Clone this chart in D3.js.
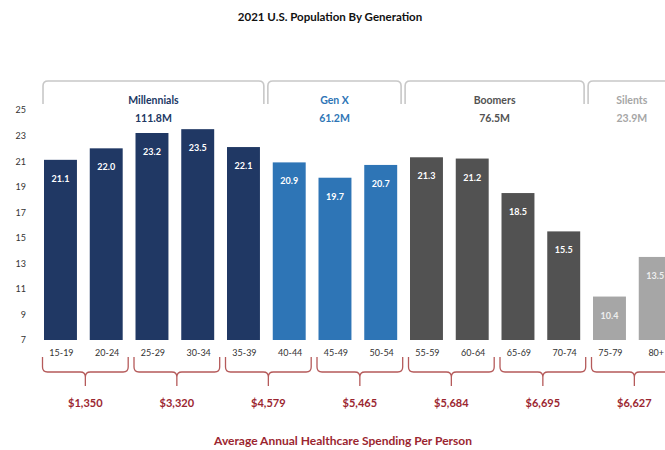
<!DOCTYPE html>
<html>
<head>
<meta charset="utf-8">
<script src="https://cdn.jsdelivr.net/npm/d3@7"></script>
<style>
  html, body { margin: 0; padding: 0; background: #fff; overflow: hidden; }
  svg { display: block; font-family: Lato, "Open Sans", "DejaVu Sans", sans-serif; }
</style>
</head>
<body>
<svg id="chart" width="665" height="450"></svg>
<script>
// Age groups (millions of people per 5-year band)
const ageGroups = ["15-19","20-24","25-29","30-34","35-39","40-44","45-49","50-54","55-59","60-64","65-69","70-74","75-79","80+"];
const population = [21.1, 22.0, 23.2, 23.5, 22.1, 20.9, 19.7, 20.7, 21.3, 21.2, 18.5, 15.5, 10.4, 13.5];
const generationOf = ["Millennials","Millennials","Millennials","Millennials","Millennials","Gen X","Gen X","Gen X","Boomers","Boomers","Boomers","Boomers","Silents","Silents"];

// Generation totals
const generations = ["Millennials","Gen X","Boomers","Silents"];
const generationTotals = ["111.8M","61.2M","76.5M","23.9M"];
const generationColors = ["#203864","#2e75b6","#525252","#a6a6a6"];

// Healthcare spending per person, one value per pair of age groups
const spendingPairs = [["15-19","20-24"],["25-29","30-34"],["35-39","40-44"],["45-49","50-54"],["55-59","60-64"],["65-69","70-74"],["75-79","80+"]];
const spendingLabels = ["$1,350","$3,320","$4,579","$5,465","$5,684","$6,695","$6,627"];

const yTicks = [7, 9, 11, 13, 15, 17, 19, 21, 23, 25];

const svg = d3.select("#chart");
const colorOf = d3.scaleOrdinal().domain(generations).range(generationColors);

const x = d3.scaleBand()
  .domain(ageGroups)
  .range([37.6, 678.1])
  .paddingInner(0.28)
  .paddingOuter(0.14);

const y = d3.scaleLinear().domain([7, 25]).range([340, 110]);

// Title
svg.append("text")
  .attr("x", 330).attr("y", 21)
  .attr("text-anchor", "middle")
  .attr("font-size", 11.5).attr("font-weight", 700).attr("fill", "#111")
  .text("2021 U.S. Population By Generation");

// Y axis (labels only)
const yAxis = svg.append("g")
  .attr("transform", "translate(26,0)")
  .call(d3.axisLeft(y).tickValues(yTicks).tickSize(0).tickPadding(0));
yAxis.select(".domain").remove();
yAxis.selectAll("text").attr("font-size", 9).attr("fill", "#333").attr("font-family", "Lato, sans-serif");

// X axis (labels only)
const xAxis = svg.append("g")
  .attr("transform", "translate(1,345)")
  .call(d3.axisBottom(x).tickSize(0).tickPadding(5));
xAxis.select(".domain").remove();
xAxis.selectAll("text").attr("font-size", 9).attr("fill", "#333").attr("font-family", "Lato, sans-serif");

// Bars
svg.append("g").selectAll("rect")
  .data(ageGroups)
  .join("rect")
  .attr("x", d => x(d))
  .attr("width", x.bandwidth())
  .attr("y", (d, i) => y(population[i]))
  .attr("height", (d, i) => y(7) - y(population[i]))
  .attr("fill", (d, i) => colorOf(generationOf[i]));

// Value labels inside bars
svg.append("g").selectAll("text")
  .data(ageGroups)
  .join("text")
  .attr("x", d => x(d) + x.bandwidth() / 2)
  .attr("y", (d, i) => y(population[i]) + 22)
  .attr("text-anchor", "middle")
  .attr("font-size", 9).attr("font-weight", 700)
  .attr("fill", (d, i) => generationOf[i] === "Silents" ? "#eeeeee" : "#ffffff")
  .text((d, i) => population[i].toFixed(1));

// Generation brackets along the top
const gap = x.step() - x.bandwidth();
generations.forEach((g, gi) => {
  const members = ageGroups.filter((a, i) => generationOf[i] === g);
  const first = members[0], last = members[members.length - 1];
  const x0 = gi === 0 ? x(first) - 1 : x(first) - gap / 2 + 1.5;
  const x1 = x(last) + x.bandwidth() + gap / 2 - 2.5;
  const top = 81, bottom = 104, r = 5;
  const p = d3.path();
  p.moveTo(x0, bottom);
  p.lineTo(x0, top + r);
  p.quadraticCurveTo(x0, top, x0 + r, top);
  p.lineTo(x1 - r, top);
  p.quadraticCurveTo(x1, top, x1, top + r);
  p.lineTo(x1, bottom);
  svg.append("path")
    .attr("d", p.toString())
    .attr("fill", "none")
    .attr("stroke", "#c8c8c8")
    .attr("stroke-width", 1.6);
  const cx = (x0 + x1) / 2;
  svg.append("text")
    .attr("x", cx).attr("y", 104)
    .attr("text-anchor", "middle")
    .attr("font-size", 10.5).attr("font-weight", 700)
    .attr("fill", colorOf(g))
    .text(g);
  svg.append("text")
    .attr("x", cx).attr("y", 122)
    .attr("text-anchor", "middle")
    .attr("font-size", 10.5).attr("font-weight", 700)
    .attr("fill", colorOf(g))
    .text(generationTotals[gi]);
});

// Spending braces under each pair of age groups
const braceColor = "#b55a5a";
spendingPairs.forEach((pair, pi) => {
  const x0 = x(pair[0]) - 1.5;
  const x1 = x(pair[1]) + x.bandwidth() + 5.5;
  const cx = (x0 + x1) / 2;
  const top = 357, mid = 372, tip = 386, r = 5;
  const p = d3.path();
  p.moveTo(x0, top);
  p.lineTo(x0, mid - r);
  p.quadraticCurveTo(x0, mid, x0 + r, mid);
  p.lineTo(cx - r, mid);
  p.quadraticCurveTo(cx, mid, cx, mid + r);
  p.lineTo(cx, tip);
  p.moveTo(cx, mid + r);
  p.quadraticCurveTo(cx, mid, cx + r, mid);
  p.lineTo(x1 - r, mid);
  p.quadraticCurveTo(x1, mid, x1, mid - r);
  p.lineTo(x1, top);
  svg.append("path")
    .attr("d", p.toString())
    .attr("fill", "none")
    .attr("stroke", braceColor)
    .attr("stroke-width", 1.3);
  svg.append("text")
    .attr("x", cx).attr("y", 407)
    .attr("text-anchor", "middle")
    .attr("font-size", 11).attr("font-weight", 700)
    .attr("fill", "#9b2630")
    .text(spendingLabels[pi]);
});

// Footer caption
svg.append("text")
  .attr("x", 343).attr("y", 445)
  .attr("text-anchor", "middle")
  .attr("font-size", 12).attr("font-weight", 700)
  .attr("fill", "#9b2630")
  .text("Average Annual Healthcare Spending Per Person");
</script>
</body>
</html>
